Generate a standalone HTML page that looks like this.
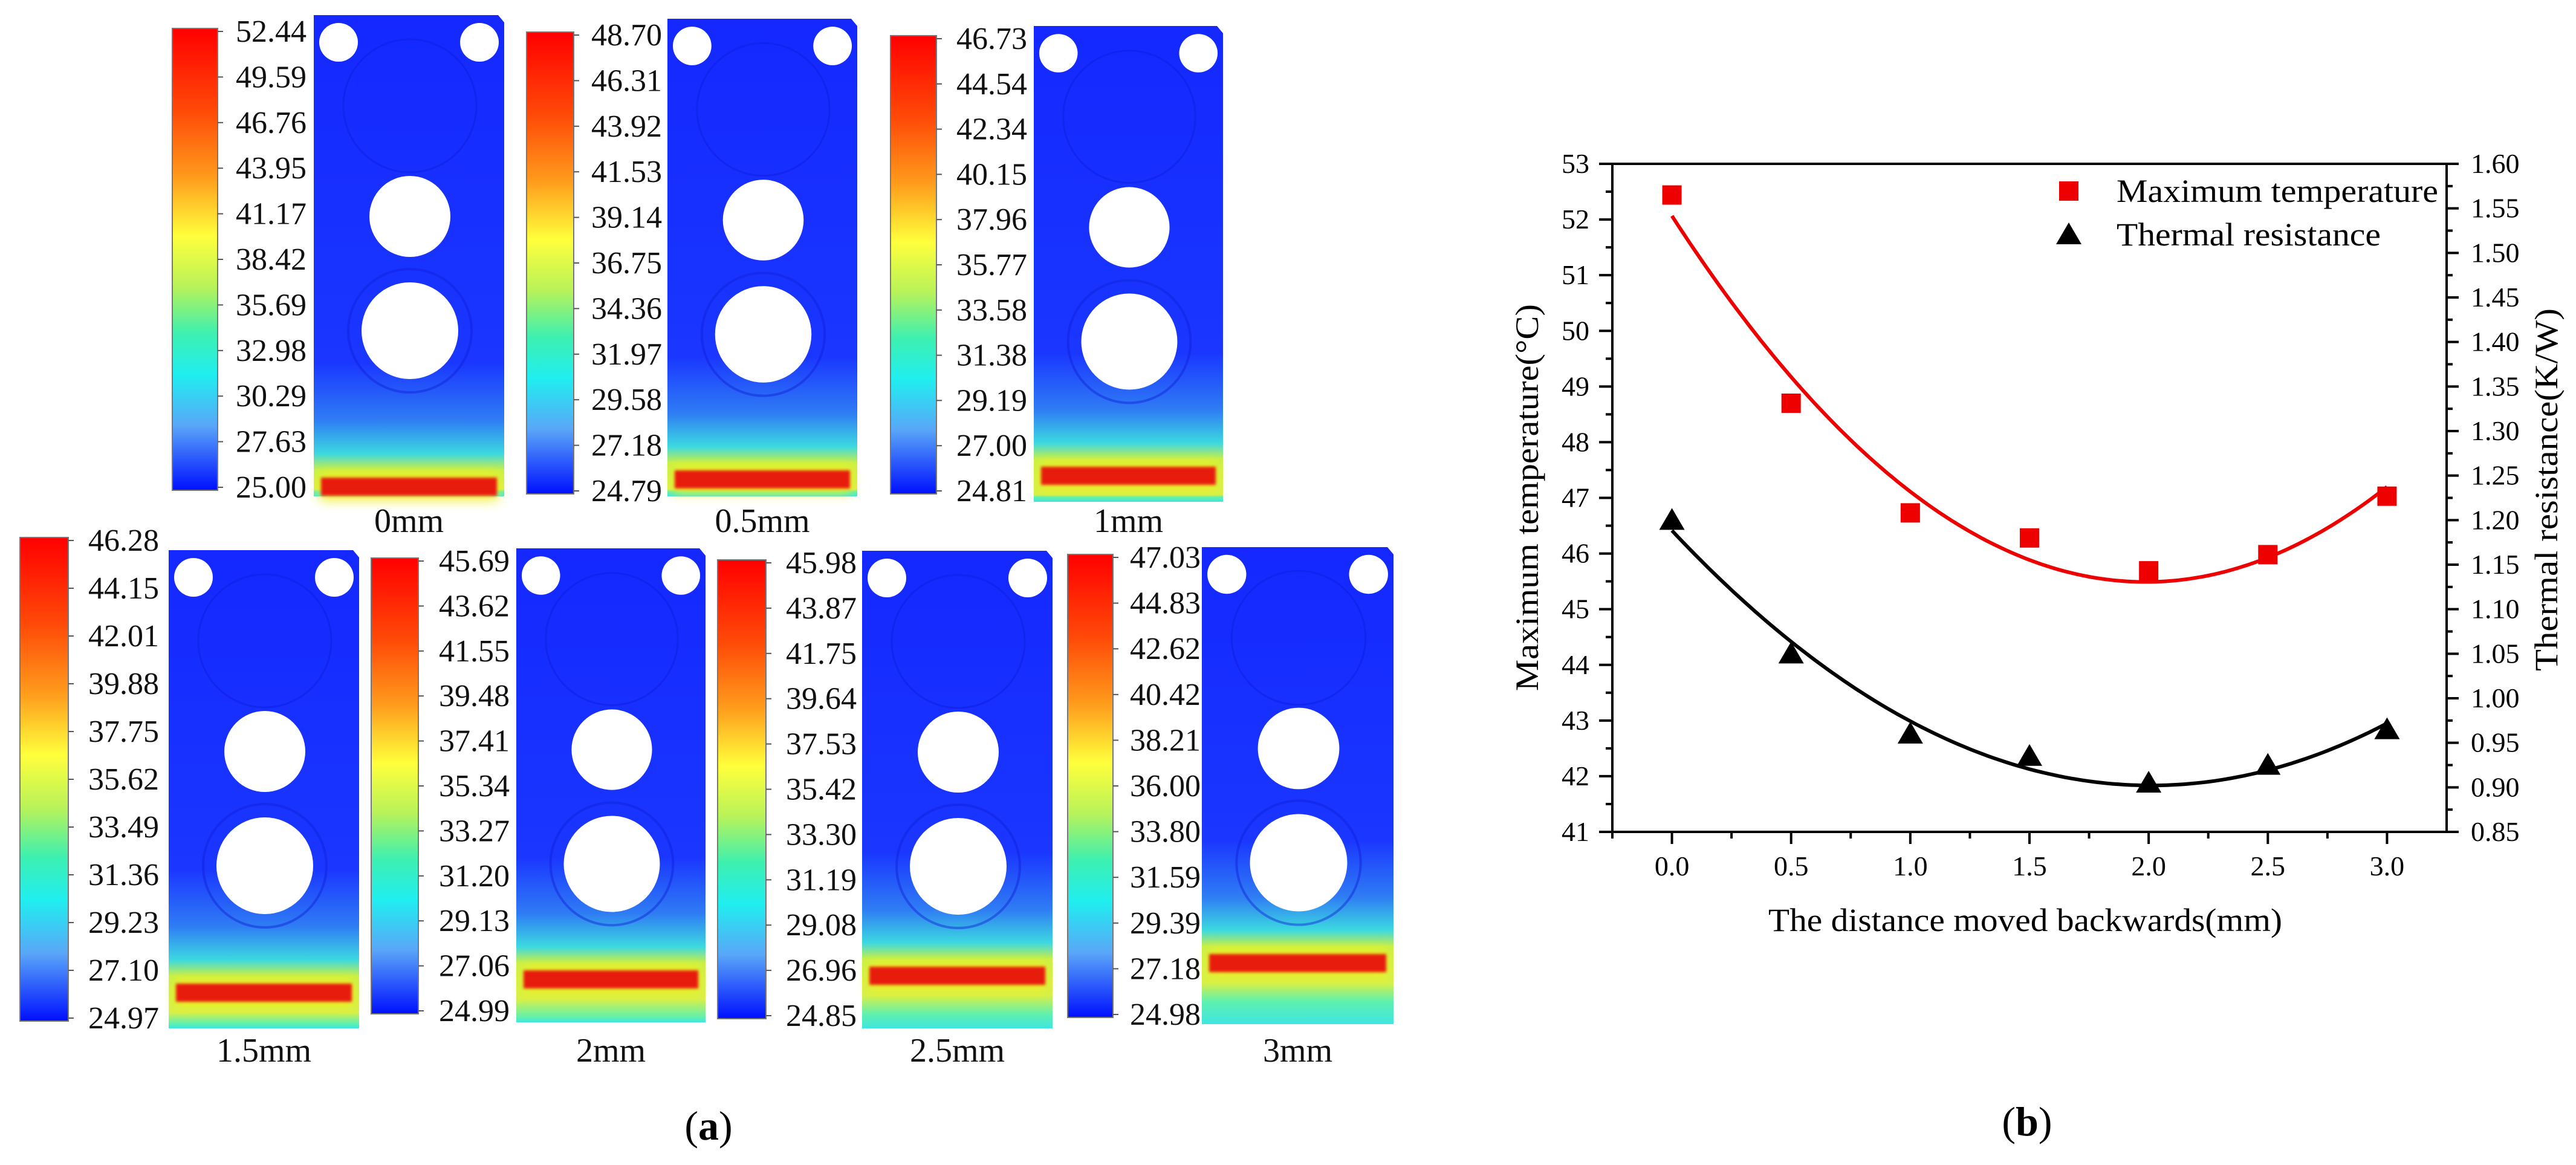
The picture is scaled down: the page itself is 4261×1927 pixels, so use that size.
<!DOCTYPE html>
<html><head><meta charset="utf-8"><style>
html,body{margin:0;padding:0;background:#fff;}
svg, svg text{font-family:"Liberation Serif","DejaVu Serif",serif;}
svg{display:block;}
</style></head><body>
<svg id="fig" xmlns="http://www.w3.org/2000/svg" width="4261" height="1927" viewBox="0 0 4261 1927" font-family="Liberation Serif, DejaVu Serif, serif">
<defs>
<linearGradient id="jet" x1="0" y1="0" x2="0" y2="1">
<stop offset="0" stop-color="#ff0000"/><stop offset="0.18" stop-color="#ff4a08"/>
<stop offset="0.32" stop-color="#ff9a1c"/><stop offset="0.45" stop-color="#ffff3c"/>
<stop offset="0.56" stop-color="#b8f25a"/><stop offset="0.66" stop-color="#3ef0b0"/>
<stop offset="0.75" stop-color="#20eef0"/><stop offset="0.86" stop-color="#5aa6f8"/>
<stop offset="1" stop-color="#0010ff"/>
</linearGradient>
<filter id="glow" x="-20%" y="-200%" width="140%" height="500%"><feGaussianBlur stdDeviation="9"/></filter>
<filter id="soft" x="-10%" y="-50%" width="120%" height="200%"><feGaussianBlur stdDeviation="2.5"/></filter>
</defs>
<g id="panelA"></g>
<g id="chart"></g>
<text x="1172" y="1885" font-size="68" text-anchor="middle" font-family="Liberation Serif, serif">(<tspan font-weight="bold">a</tspan>)</text>
<text x="3353" y="1878" font-size="68" text-anchor="middle" font-family="Liberation Serif, serif">(<tspan font-weight="bold">b</tspan>)</text>
</svg>
<script>
// ---------- chart data ----------
const xVals = [0, 0.5, 1.0, 1.5, 2.0, 2.5, 3.0];
const tempVals = [52.44, 48.70, 46.73, 46.28, 45.69, 45.98, 47.03];
const resVals = [1.20, 1.05, 0.96, 0.935, 0.905, 0.925, 0.965];
const xTickLabels = ["0.0","0.5","1.0","1.5","2.0","2.5","3.0"];
const leftTickLabels = ["41","42","43","44","45","46","47","48","49","50","51","52","53"];
const rightTickLabels = ["0.85","0.90","0.95","1.00","1.05","1.10","1.15","1.20","1.25","1.30","1.35","1.40","1.45","1.50","1.55","1.60"];

// ---------- contour panel data ----------
const panelNames = ["0mm","0.5mm","1mm","1.5mm","2mm","2.5mm","3mm"];
const colorbarLabels = [
 ["52.44","49.59","46.76","43.95","41.17","38.42","35.69","32.98","30.29","27.63","25.00"],
 ["48.70","46.31","43.92","41.53","39.14","36.75","34.36","31.97","29.58","27.18","24.79"],
 ["46.73","44.54","42.34","40.15","37.96","35.77","33.58","31.38","29.19","27.00","24.81"],
 ["46.28","44.15","42.01","39.88","37.75","35.62","33.49","31.36","29.23","27.10","24.97"],
 ["45.69","43.62","41.55","39.48","37.41","35.34","33.27","31.20","29.13","27.06","24.99"],
 ["45.98","43.87","41.75","39.64","37.53","35.42","33.30","31.19","29.08","26.96","24.85"],
 ["47.03","44.83","42.62","40.42","38.21","36.00","33.80","31.59","29.39","27.18","24.98"]
];
const NS = "http://www.w3.org/2000/svg";
const FF = "Liberation Serif, DejaVu Serif, serif";
function mk(parent, tag, attrs){const e=document.createElementNS(NS,tag);for(const k in attrs)e.setAttribute(k,attrs[k]);if(tag==="text")e.setAttribute("font-family",FF);parent.appendChild(e);return e;}

// layout (positions only)
const layout = [
 {cb:[285,47,75,764], lx:390, plate:[519,25,315,796], bar:765, ly:880},
 {cb:[871,53,78,764], lx:978, plate:[1104,31,314,790], bar:747, ly:880},
 {cb:[1473,59,76,758], lx:1582, plate:[1710,43,313,787], bar:729, ly:880},
 {cb:[33,889,80,800], lx:146, plate:[279,910,315,791], bar:717, ly:1756},
 {cb:[614,923,78,754], lx:726, plate:[854,907,313,784], bar:698, ly:1756},
 {cb:[1187,926,80,759], lx:1300, plate:[1426,911,315,790], bar:688, ly:1756},
 {cb:[1766,917,75,766], lx:1869, plate:[1988,905,317,789], bar:673, ly:1756}
];
const gA = document.getElementById("panelA");
const defs = document.querySelector("defs");
panelNames.forEach((nm,i)=>{
  const L = layout[i];
  const g = mk(gA,"g",{});
  
  
  const [cx,cy,cw,ch] = L.cb;
  const cb = mk(g,"rect",{x:cx,y:cy,width:cw,height:ch,fill:"url(#jet)",stroke:"#777","stroke-width":2});
  
  
  colorbarLabels[i].forEach((t,j)=>{
    const yy = cy + 5 + j*(ch-10)/10;
    mk(g,"line",{x1:cx+cw,x2:cx+cw+9,y1:yy,y2:yy,stroke:"#555","stroke-width":2});
    const tx = mk(g,"text",{x:L.lx,y:yy+17,"font-size":52,fill:"#111"});
    tx.textContent = t;
    
    
  });
  const [px,py,pw,ph] = L.plate;
  const s = pw/315;
  const f = L.bar/ph;
  const gid = "pg"+i;
  const lg = mk(defs,"linearGradient",{id:gid,x1:0,y1:0,x2:0,y2:1});
  const stops = [[0,"#1428ff"],[f-0.24,"#1a36ff"],[f-0.12,"#2f7cf4"],[f-0.05,"#3cd8e0"],[f-0.015,"#c8f048"],[Math.min(f+0.06,0.985),"#d8f048"],[Math.min(f+0.1,0.99),"#5ef0b0"],[1,"#3ee6e0"]];
  stops.forEach(st=>mk(lg,"stop",{offset:Math.max(0,Math.min(1,st[0])),"stop-color":st[1]}));
  const plate = mk(g,"path",{d:`M${px},${py} H${px+pw-10} L${px+pw},${py+12} V${py+ph} H${px} Z`,fill:`url(#${gid})`});
  
  
  mk(g,"circle",{cx:px+159*s,cy:py+150,r:110*s,fill:"none",stroke:"#0d1ee0","stroke-width":3,opacity:0.5});
  mk(g,"circle",{cx:px+159*s,cy:py+522,r:102*s,fill:"none",stroke:"#1020d8","stroke-width":4,opacity:0.45});
  [[41,45,32],[274,45,32],[159,333,67],[159,522,80]].forEach(h=>{
    const c = mk(g,"circle",{cx:px+h[0]*s,cy:py+h[1],r:h[2]*s,fill:"#fff"});
    
    
  });
  mk(g,"rect",{x:px+10,y:py+L.bar-8,width:pw-20,height:46,fill:"#f0f020",filter:"url(#glow)",opacity:0.9});
  const bar = mk(g,"rect",{x:px+12,y:py+L.bar,width:pw-24,height:30,fill:"#e81a0c",filter:"url(#soft)"});
  
  
  const lab = mk(g,"text",{x:px+pw/2,y:L.ly,"font-size":56,"text-anchor":"middle",fill:"#111"});
  lab.textContent = nm;
  
  
});

// ---------- chart ----------
const G = document.getElementById("chart");
const X0=2667, X1=4047, Y0=271, Y1=1376;
const xMin=-0.25, xMax=3.25, tMin=41, tMax=53, rMin=0.85, rMax=1.60;
const xs = v => X0 + (v-xMin)/(xMax-xMin)*(X1-X0);
const yt = v => Y1 - (v-tMin)/(tMax-tMin)*(Y1-Y0);
const yr = v => Y1 - (v-rMin)/(rMax-rMin)*(Y1-Y0);
const frame = mk(G,"rect",{x:X0,y:Y0,width:X1-X0,height:Y1-Y0,fill:"none",stroke:"#000","stroke-width":4});


xTickLabels.forEach(t=>{
  const v = parseFloat(t), x = xs(v);
  mk(G,"line",{x1:x,x2:x,y1:Y1,y2:Y1+20,stroke:"#000","stroke-width":4});
  const mx = xs(v+0.25);
  if(v<3.0) mk(G,"line",{x1:mx,x2:mx,y1:Y1,y2:Y1+11,stroke:"#000","stroke-width":4});
  const tx = mk(G,"text",{x:x,y:Y1+72,"font-size":46,"text-anchor":"middle"});
  tx.textContent = t;
  
  
});
mk(G,"line",{x1:xs(-0.25),x2:xs(-0.25),y1:Y1,y2:Y1+11,stroke:"#000","stroke-width":4});
leftTickLabels.forEach(t=>{
  const v = parseFloat(t), y = yt(v);
  mk(G,"line",{x1:X0-22,x2:X0,y1:y,y2:y,stroke:"#000","stroke-width":4});
  if(v<53){const my=yt(v+0.5); mk(G,"line",{x1:X0-11,x2:X0,y1:my,y2:my,stroke:"#000","stroke-width":4});}
  const tx = mk(G,"text",{x:X0-38,y:y+15,"font-size":46,"text-anchor":"end"});
  tx.textContent = t;
  
  
});
rightTickLabels.forEach(t=>{
  const v = parseFloat(t), y = yr(v);
  mk(G,"line",{x1:X1,x2:X1+20,y1:y,y2:y,stroke:"#000","stroke-width":4});
  if(v<1.59){const my=yr(v+0.025); mk(G,"line",{x1:X1,x2:X1+10,y1:my,y2:my,stroke:"#000","stroke-width":4});}
  const tx = mk(G,"text",{x:X1+40,y:y+15,"font-size":46});
  tx.textContent = t;
  
  
});
const xt = mk(G,"text",{x:(X0+X1)/2-7,y:1540,"font-size":54,"text-anchor":"middle",textLength:850,lengthAdjust:"spacingAndGlyphs"});
xt.textContent = "The distance moved backwards(mm)";


const lt = mk(G,"text",{x:0,y:0,"font-size":54,"text-anchor":"middle",transform:"translate(2544,823) rotate(-90)",textLength:640,lengthAdjust:"spacingAndGlyphs"});
lt.textContent = "Maximum temperature(°C)";


const rt = mk(G,"text",{x:0,y:0,"font-size":54,"text-anchor":"middle",transform:"translate(4230,810) rotate(-90)",textLength:600,lengthAdjust:"spacingAndGlyphs"});
rt.textContent = "Thermal resistance(K/W)";



function fit(xa, ya){
  let S=[0,0,0,0,0], T=[0,0,0];
  xa.forEach((x,i)=>{for(let k=0;k<5;k++)S[k]+=Math.pow(x,k);for(let k=0;k<3;k++)T[k]+=ya[i]*Math.pow(x,k);});
  const A=[[S[0],S[1],S[2],T[0]],[S[1],S[2],S[3],T[1]],[S[2],S[3],S[4],T[2]]];
  for(let c=0;c<3;c++){for(let r=c+1;r<3;r++){const m=A[r][c]/A[c][c];for(let k=c;k<4;k++)A[r][k]-=m*A[c][k];}}
  const b=[0,0,0];
  for(let r=2;r>=0;r--){let s=A[r][3];for(let k=r+1;k<3;k++)s-=A[r][k]*b[k];b[r]=s/A[r][r];}
  return x=>b[0]+b[1]*x+b[2]*x*x;
}
function curve(fn, ys, color, name){
  const lo=xVals[0], hi=xVals[xVals.length-1];
  let d="";
  for(let i=0;i<=120;i++){const x=lo+(hi-lo)*i/120;d+=(i?"L":"M")+xs(x).toFixed(1)+","+ys(fn(x)).toFixed(1);}
  const p = mk(G,"path",{d:d,fill:"none",stroke:color,"stroke-width":6});
  
  
}
curve(fit(xVals,tempVals), yt, "#ee0000", "temperature-fit-curve");
curve(fit(xVals,resVals), yr, "#000", "resistance-fit-curve");
tempVals.forEach((v,i)=>{
  const r = mk(G,"rect",{x:xs(xVals[i])-16,y:yt(v)-16,width:32,height:32,fill:"#ee0000"});
  
  
});
resVals.forEach((v,i)=>{
  const x=xs(xVals[i]), y=yr(v);
  const p = mk(G,"path",{d:`M${x},${y-20} L${x+21},${y+16} L${x-21},${y+16} Z`,fill:"#000"});
  
  
});
const lg1 = mk(G,"g",{});


mk(lg1,"rect",{x:3406,y:300,width:32,height:32,fill:"#ee0000"});
const l1 = mk(lg1,"text",{x:3501,y:334,"font-size":54,textLength:532,lengthAdjust:"spacingAndGlyphs"});
l1.textContent = "Maximum temperature";
const lg2 = mk(G,"g",{});


mk(lg2,"path",{d:"M3422,368 L3443,404 L3401,404 Z",fill:"#000"});
const l2 = mk(lg2,"text",{x:3501,y:406,"font-size":54,textLength:437,lengthAdjust:"spacingAndGlyphs"});
l2.textContent = "Thermal resistance";
</script>
</body></html>
